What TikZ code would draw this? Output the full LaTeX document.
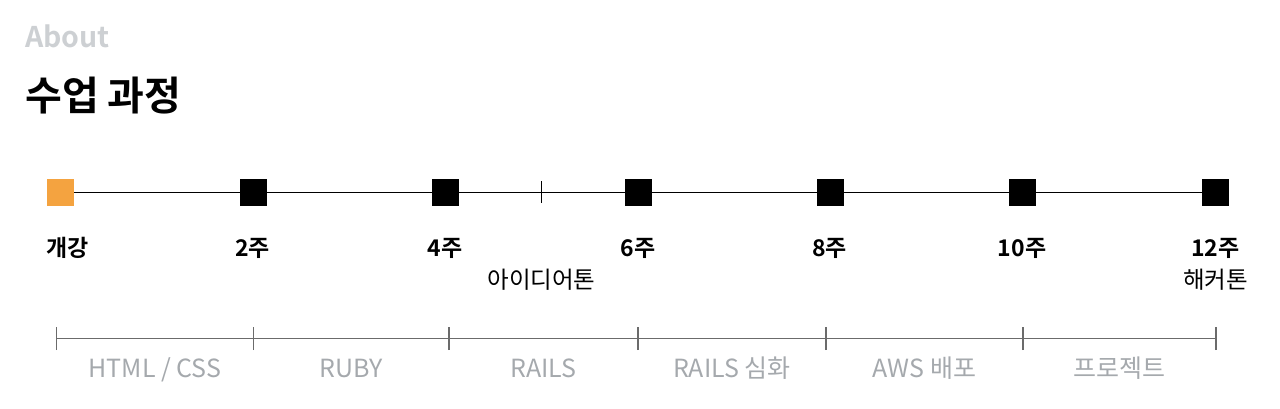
\documentclass[tikz,border=0pt]{standalone}
\usepackage{fontspec}
\setmainfont{Noto Sans CJK KR}[BoldFont={* Bold}]
\definecolor{aboutgray}{HTML}{CDD0D3}
\definecolor{labelgray}{HTML}{A5A9AD}
\definecolor{rulegray}{HTML}{6B6B6B}
\definecolor{startorange}{HTML}{F4A340}
\begin{document}
\begin{tikzpicture}[x=1pt,y=-1pt,
  milestone/.style={draw=none,fill=black,minimum size=27pt,inner sep=0pt,outer sep=0pt},
  startbox/.style={milestone,fill=startorange},
  weeklabel/.style={anchor=base,inner sep=0pt,font=\fontsize{23}{27}\selectfont\bfseries},
  eventlabel/.style={anchor=base,inner sep=0pt,font=\fontsize{23.5}{27}\selectfont},
  phaselabel/.style={anchor=base,inner sep=0pt,text=labelgray,font=\fontsize{25}{29}\selectfont},
  mainline/.style={line width=1.8pt,black},
  ruleline/.style={line width=1.6pt,rulegray},
  ruletick/.style={line width=1.2pt,rulegray}
]
\useasboundingbox (0,0) rectangle (1280,408);
% headings
\node[anchor=base west,inner sep=0pt,text=aboutgray,font=\fontsize{28.5}{32}\selectfont\bfseries] (about) at (25,47) {About};
\node[anchor=base west,inner sep=0pt,font=\fontsize{40}{46}\selectfont\bfseries] (title) at (25,110) {수업 과정};
% milestones
\node[startbox] (s0) at (60.5,192.5) {};
\node[milestone] (s2) at (253,192.5) {};
\node[milestone] (s4) at (445.5,192.5) {};
\node[milestone] (s6) at (638,192.5) {};
\node[milestone] (s8) at (830,192.5) {};
\node[milestone] (s10) at (1022,192.5) {};
\node[milestone] (s12) at (1215.5,192.5) {};
\coordinate (ideaTop) at (541.5,181);
\coordinate (ideaBot) at (541.5,203);
\draw[mainline] (s0) -- (s2);
\draw[mainline] (s2) -- (s4);
\draw[mainline] (s4) -- (s6);
\draw[mainline] (s6) -- (s8);
\draw[mainline] (s8) -- (s10);
\draw[mainline] (s10) -- (s12);
\draw[line width=1.5pt] (ideaTop) -- (ideaBot);
% week labels
\node[weeklabel] (l0) at (67.5,256) {개강};
\node[weeklabel] (l2) at (252.5,256) {2주};
\node[weeklabel] (l4) at (445,256) {4주};
\node[weeklabel] (l6) at (638,256) {6주};
\node[weeklabel] (l8) at (829.5,256) {8주};
\node[weeklabel] (l10) at (1022,256) {10주};
\node[weeklabel] (l12) at (1215.5,256) {12주};
\node[eventlabel] (idea) at (541.5,288) {아이디어톤};
\node[eventlabel] (hack) at (1215.5,288) {해커톤};
% phase ruler
\coordinate (r0) at (56.5,338.5);
\coordinate (r1) at (253.5,338.5);
\coordinate (r2) at (449,338.5);
\coordinate (r3) at (638,338.5);
\coordinate (r4) at (826,338.5);
\coordinate (r5) at (1023,338.5);
\coordinate (r6) at (1216,338.5);
\draw[ruleline] (r0) -- (r6);
\foreach \r in {r0,r1,r2,r3,r4,r5,r6}{
  \draw[ruletick] ([yshift=-11.5pt]\r) -- ([yshift=11.5pt]\r);
}
\node[phaselabel] (p1) at (155,377) {HTML / CSS};
\node[phaselabel] (p2) at (351,377) {RUBY};
\node[phaselabel] (p3) at (543.5,377) {RAILS};
\node[phaselabel] (p4) at (732,377) {RAILS 심화};
\node[phaselabel] (p5) at (924.5,377) {AWS 배포};
\node[phaselabel] (p6) at (1119.5,377) {프로젝트};
\end{tikzpicture}
\end{document}
